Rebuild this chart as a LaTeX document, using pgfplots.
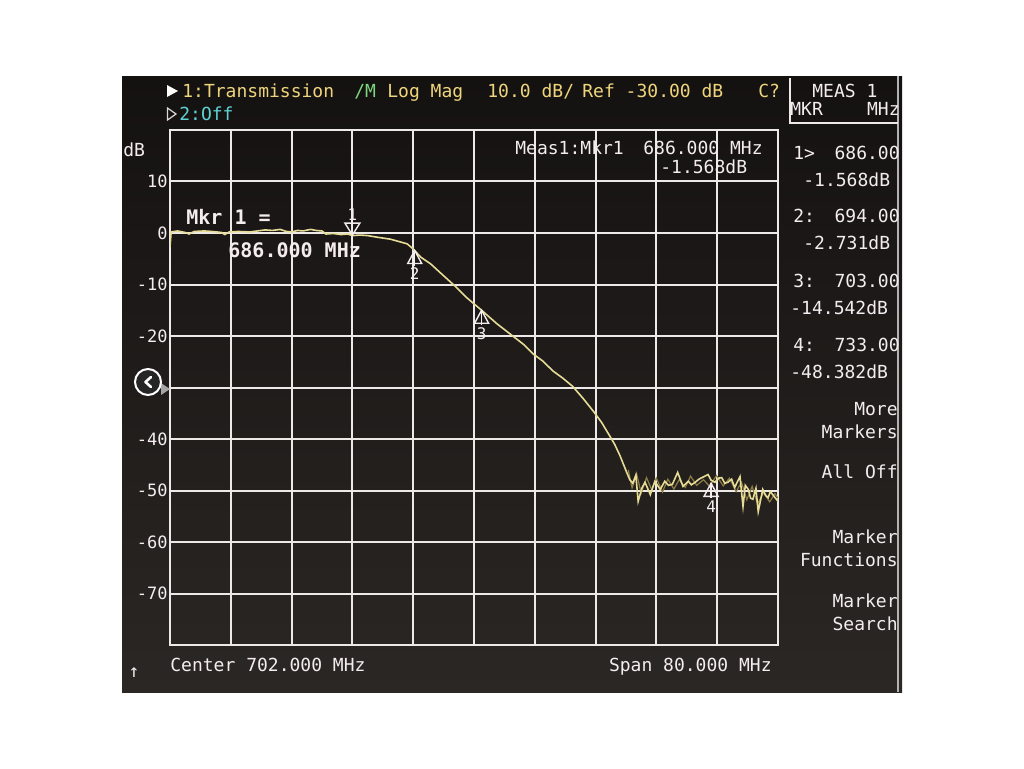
\documentclass[border=0pt]{standalone}
\usepackage{pgfplots}
\pgfplotsset{compat=1.18}
\usepackage{fontspec}
\setmainfont{DejaVu Sans Mono}

\definecolor{scrtop}{HTML}{141111}
\definecolor{scrbot}{HTML}{2B2724}
\definecolor{gridc}{HTML}{ECE9E6}
\definecolor{trace}{HTML}{E6DC96}
\definecolor{traceb}{HTML}{8C7C46}
\definecolor{hdr}{HTML}{EED57C}
\definecolor{hdrg}{HTML}{7ED67E}
\definecolor{hdrc}{HTML}{5FD3D3}
\definecolor{txt}{HTML}{F4ECEE}

% marker symbols, tip on the trace
\newcommand\dnmk[3]{%
  \draw[txt, line width=0.7pt] (axis cs:#1,#2) -- ++(-3.75pt,6pt) -- ++(7.5pt,0pt) -- cycle;
  \draw[txt, line width=0.7pt] (axis cs:#1,#2) -- ++(0pt,7.5pt);
  \node[txt, font=\fontsize{8}{9}\selectfont, inner sep=0pt] at ([yshift=10pt]axis cs:#1,#2) {#3};}
\newcommand\upmk[3]{%
  \draw[txt, line width=0.7pt] (axis cs:#1,#2) -- ++(-3.5pt,-6.5pt) -- ++(7pt,0pt) -- cycle;
  \draw[txt, line width=0.7pt] (axis cs:#1,#2) -- ++(0pt,-7.5pt);
  \node[txt, font=\fontsize{8}{9}\selectfont, inner sep=0pt] at ([yshift=-11.5pt]axis cs:#1,#2) {#3};}

\begin{document}
\begin{tikzpicture}[x=0.5pt, y=-0.5pt,
  lbl/.style={inner sep=0pt, font=\fontsize{9}{10}\selectfont, color=txt}]
  \path[use as bounding box, fill=white] (0,0) rectangle (1024,768);
  % screen
  \shade[top color=scrtop, bottom color=scrbot] (122,76) rectangle (902,692);
  \draw[gray!60, line width=1pt] (898,76) -- (898,692);

  % header
  \fill[white] (167,85) -- (167,97) -- (178,91) -- cycle;
  \draw[white!85!black, line width=0.6pt] (167.5,108) -- (167.5,120) -- (176,114) -- cycle;
  \node[lbl, anchor=base west, hdr] at (182,97.5) {1:Transmission};
  \node[lbl, anchor=base west, hdrg] at (354,97.5) {/M};
  \node[lbl, anchor=base west, hdr] at (387,97.5) {Log Mag};
  \node[lbl, anchor=base west, hdr] at (487,97.5) {10.0 dB/};
  \node[lbl, anchor=base west, hdr] at (582,97.5) {Ref -30.00 dB};
  \node[lbl, anchor=base west, hdr] at (758,97.5) {C?};
  \node[lbl, anchor=base west, hdrc] at (179,120.5) {2:Off};
  \draw[gridc, line width=0.8pt] (790,78) -- (790,123) -- (898,123);
  \node[lbl, anchor=base west] at (812,97.5) {MEAS 1};
  \node[lbl, anchor=base west] at (790,115) {MKR};
  \node[lbl, anchor=base east] at (900,115) {MHz};
  \node[lbl, anchor=base west] at (123,156) {dB};

  \begin{axis}[
      at={(85pt,-322.5pt)}, anchor=south west,
      scale only axis, width=304pt, height=257.5pt,
      xmin=662, xmax=742, ymin=-80, ymax=20,
      xtick={662,670,...,742}, ytick={-80,-70,...,20},
      xticklabel={\relax},
      yticklabels={,-70,-60,-50,-40,,-20,-10,0,10,},
      yticklabel style={inner sep=0pt, xshift=-1pt, color=txt,
        font=\fontsize{8.5}{10}\selectfont},
      major tick length=0pt,
      grid=major,
      major grid style={line width=1pt, color=gridc},
      axis line style={line width=1pt, color=gridc},
    ]
    % faint second sweep in the noise floor
    \addplot[traceb, line width=0.6pt] table {
      722.3 -46.0
      722.8 -49.5
      723.4 -46.8
      724.0 -50.5
      724.7 -47.5
      725.4 -49.9
      726.0 -47.6
      726.8 -50.3
      727.5 -47.8
      728.3 -49.7
      729.0 -47.9
      729.8 -49.4
      730.5 -47.2
      731.3 -49.0
      732.2 -47.9
      733.0 -49.2
      733.9 -47.1
      734.8 -49.1
      735.6 -47.6
      736.5 -50.2
      737.2 -48.4
      737.9 -51.8
      738.6 -49.2
      739.3 -52.6
      740.1 -50.4
      740.9 -52.2
      741.6 -50.6
      742.0 -51.5
    };
    \addplot[trace, line width=0.8pt] table {
      662.0 -2.8
      662.15 0.2
      663.0 0.4
      664.0 0.1
      664.5 -0.2
      665.2 0.3
      666.5 0.4
      667.5 0.3
      668.8 0.1
      669.2 -0.3
      669.8 0.2
      671.0 0.3
      672.5 0.2
      673.5 0.4
      674.5 0.6
      675.5 0.5
      676.5 0.7
      677.3 0.3
      678.0 0.2
      678.8 0.5
      679.5 0.4
      680.5 0.7
      681.2 0.5
      682.0 0.4
      682.5 -0.2
      683.5 -0.1
      684.5 -0.3
      685.4 -0.2
      686.0 -0.5
      687.0 -0.4
      688.0 -0.5
      689.2 -0.8
      691.0 -1.2
      693.2 -2.1
      694.0 -3.1
      695.0 -4.7
      696.3 -6.0
      698.0 -8.3
      699.5 -10.3
      701.0 -12.5
      703.0 -15.0
      705.0 -17.6
      707.1 -20.0
      708.5 -21.6
      709.8 -23.5
      711.0 -24.8
      712.4 -26.8
      713.7 -28.2
      715.0 -29.8
      716.4 -32.2
      717.7 -34.6
      718.8 -36.8
      719.9 -39.5
      720.5 -41.0
      721.2 -43.2
      722.1 -46.5
      722.5 -47.9
      722.9 -48.6
      723.3 -47.0
      723.6 -52.1
      724.1 -49.5
      724.5 -48.4
      725.2 -50.8
      725.8 -48.2
      726.5 -49.8
      727.1 -48.2
      727.6 -49.0
      728.1 -48.8
      728.8 -46.5
      729.5 -49.2
      730.2 -48.2
      730.6 -48.9
      731.1 -48.4
      731.6 -47.8
      732.0 -47.5
      732.8 -46.9
      733.2 -48.0
      733.7 -48.4
      734.2 -47.6
      734.6 -47.5
      735.0 -48.6
      735.4 -48.4
      735.9 -47.8
      736.3 -49.4
      737.0 -47.3
      737.4 -53.1
      737.7 -49.0
      738.1 -49.8
      738.4 -51.5
      738.7 -51.7
      739.1 -49.6
      739.4 -54.1
      740.0 -49.8
      740.4 -51.0
      740.7 -51.4
      741.0 -50.2
      741.3 -50.8
      742.0 -52.1
    };
    \dnmk{686.0}{-0.4}{1}
    \upmk{694.2}{-3.4}{2}
    \upmk{703.0}{-15.0}{3}
    \upmk{733.2}{-48.6}{4}
  \end{axis}

  % reference level pointer and overlay button
  \fill[gray!70] (161,383) -- (161,395) -- (170,389) -- cycle;
  \filldraw[fill=black!85, draw=white, line width=1pt] (148,382) circle (13);
  \draw[white, line width=1.3pt, line cap=round, line join=round] (151,377) -- (145.5,382) -- (151,387);

  % marker annotation in the grid
  \node[lbl, anchor=base west, font=\fontsize{10}{12}\selectfont\bfseries] at (186,224) {Mkr 1 =};
  \node[lbl, anchor=base west, font=\fontsize{10}{12}\selectfont\bfseries] at (228,257) {686.000 MHz};
  \node[lbl, anchor=base west] at (515,154) {Meas1:Mkr1};
  \node[lbl, anchor=base west] at (643,154) {686.000 MHz};
  \node[lbl, anchor=base west] at (660,173) {-1.568dB};

  % marker table
  \node[lbl, anchor=base west] at (793,159.5) {1>};
  \node[lbl, anchor=base east] at (900,159.5) {686.00};
  \node[lbl, anchor=base west] at (803,186.5) {-1.568dB};
  \node[lbl, anchor=base west] at (793,222.5) {2:};
  \node[lbl, anchor=base east] at (900,222.5) {694.00};
  \node[lbl, anchor=base west] at (803,249.5) {-2.731dB};
  \node[lbl, anchor=base west] at (793,287.5) {3:};
  \node[lbl, anchor=base east] at (900,287.5) {703.00};
  \node[lbl, anchor=base west] at (790,314.5) {-14.542dB};
  \node[lbl, anchor=base west] at (793,351.5) {4:};
  \node[lbl, anchor=base east] at (900,351.5) {733.00};
  \node[lbl, anchor=base west] at (790,378.5) {-48.382dB};

  % softkeys
  \node[lbl, anchor=base east] at (898,415.5) {More};
  \node[lbl, anchor=base east] at (898,438.5) {Markers};
  \node[lbl, anchor=base east] at (898,478.5) {All Off};
  \node[lbl, anchor=base east] at (898,543.5) {Marker};
  \node[lbl, anchor=base east] at (898,566.5) {Functions};
  \node[lbl, anchor=base east] at (898,607.5) {Marker};
  \node[lbl, anchor=base east] at (898,630.5) {Search};

  % footer
  \node[lbl, anchor=base west] at (170,671.5) {Center 702.000 MHz};
  \node[lbl, anchor=base east] at (772,671.5) {Span 80.000 MHz};
  \node[lbl, font=\fontsize{9}{10}\selectfont] at (134,673) {↑};
\end{tikzpicture}
\end{document}
